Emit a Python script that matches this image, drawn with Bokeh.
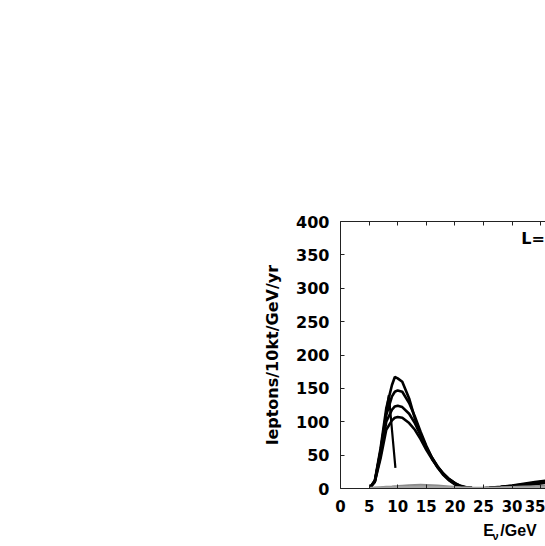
from bokeh.plotting import figure
from bokeh.models import Range1d, LinearAxis, FixedTicker
from bokeh.core.properties import value
from bokeh.embed import file_html
from bokeh.resources import INLINE

# ---- data ----
E_grid = [5.2, 6, 7, 8, 9, 9.5, 10, 10.8, 12, 13, 14, 15, 16, 17, 18, 19, 20, 21, 22,
          23, 24, 25, 26, 28, 30, 32, 34, 36, 38, 40]
black_1 = [2, 12, 60, 120, 155, 167, 165, 160, 135, 105, 82, 62, 45, 31, 20, 12, 6, 2.5, 1,
           0.5, 0.3, 0.4, 1.0, 2.5, 4.5, 7, 9.5, 12, 14, 16]
black_2 = [2, 11, 55, 110, 138, 145, 147, 145, 128, 108, 85, 64, 46, 32, 21, 13, 7, 3, 1,
           0.5, 0.3, 0.4, 0.9, 2.2, 4, 6, 8.5, 11, 13, 15]
black_3 = [2, 10, 50, 100, 118, 123, 124, 122, 112, 98, 80, 62, 46, 33, 22, 14, 8, 3.5, 1.5,
           0.6, 0.3, 0.3, 0.8, 2, 3.5, 5.5, 7.5, 10, 12, 14]
black_4 = [2, 10, 45, 88, 102, 106, 107, 106, 98, 88, 74, 58, 44, 32, 22, 14, 8, 4, 2,
           0.8, 0.4, 0.3, 0.7, 1.7, 3, 4.5, 6.5, 8.5, 10.5, 12]
short_E = [5.2, 6, 7, 8, 8.45, 9.6]
short_v = [2, 12, 58, 115, 140, 31]
gray_1 = [0.5, 1, 1.5, 2, 2.5, 3, 3.3, 3.8, 4.3, 4.7, 5, 4.8, 4.4, 3.9, 3.3, 2.7, 2.1, 1.6, 1.2,
          0.9, 0.7, 0.7, 0.9, 1.3, 1.8, 2.4, 3, 3.6, 4.2, 4.8]
gray_2 = [0.2, 0.4, 0.7, 1, 1.3, 1.5, 1.7, 1.9, 2.1, 2.3, 2.4, 2.3, 2.1, 1.9, 1.6, 1.3, 1, 0.8, 0.6,
          0.4, 0.3, 0.3, 0.4, 0.6, 0.9, 1.2, 1.5, 1.9, 2.2, 2.5]
x_ticks = [0, 5, 10, 15, 20, 25, 30, 35, 40, 45, 50, 55, 60]
y_ticks = [0, 50, 100, 150, 200, 250, 300, 350, 400]
panel_text = "L="
x_title_main = {148: "E", 178: "/GeV"}
x_title_sub = {155: "ν"}

FONT = "DejaVu Sans"
TFONT = "Liberation Sans"
FS = "16px"

p = figure(width=545, height=546, output_backend="svg", toolbar_location=None,
           x_range=Range1d(0, 35.84), y_range=Range1d(0, 400),
           min_border_left=340, min_border_right=0, min_border_top=221, min_border_bottom=58)
p.extra_x_ranges = {"px": Range1d(0, 205)}
p.outline_line_color = None
p.xgrid.visible = False
p.ygrid.visible = False
p.background_fill_color = "white"
p.border_fill_color = "white"

for ax in (p.xaxis[0], p.yaxis[0]):
    ax.major_tick_in = 4
    ax.major_tick_out = 0
    ax.minor_tick_in = 0
    ax.minor_tick_out = 0
    ax.axis_line_color = "#222222"
    ax.major_tick_line_color = "#222222"
    ax.major_label_text_font = FONT
    ax.major_label_text_font_style = "bold"
    ax.major_label_text_font_size = FS
    ax.major_label_text_color = "black"

p.xaxis[0].ticker = FixedTicker(ticks=x_ticks)
p.xaxis[0].major_label_text_font_size = "15px"
p.yaxis[0].ticker = FixedTicker(ticks=y_ticks)
p.xaxis[0].major_label_standoff = 11
p.yaxis[0].major_label_standoff = 11

p.yaxis[0].axis_label = "leptons/10kt/GeV/yr"
p.yaxis[0].axis_label_text_font = FONT
p.yaxis[0].axis_label_text_font_style = "bold"
p.yaxis[0].axis_label_text_font_size = FS
p.yaxis[0].axis_label_text_color = "black"
p.yaxis[0].axis_label_standoff = 11

top = LinearAxis(ticker=FixedTicker(ticks=x_ticks))
top.major_tick_in = 4
top.major_tick_out = 0
top.minor_tick_in = 0
top.minor_tick_out = 0
top.major_label_text_font_size = "0px"
top.major_label_text_alpha = 0
top.axis_line_color = "#222222"
top.major_tick_line_color = "#222222"
p.add_layout(top, "above")


def title_axis(labels, size, standoff):
    ax = LinearAxis(x_range_name="px", ticker=FixedTicker(ticks=list(labels.keys())),
                    major_label_overrides=labels)
    ax.axis_line_color = None
    ax.major_tick_line_color = None
    ax.minor_tick_line_color = None
    ax.major_tick_in = 0
    ax.major_tick_out = 0
    ax.minor_tick_in = 0
    ax.minor_tick_out = 0
    ax.major_label_text_font = TFONT
    ax.major_label_text_font_style = "bold"
    ax.major_label_text_font_size = size
    ax.major_label_text_color = "black"
    ax.major_label_standoff = standoff
    return ax


p.add_layout(title_axis(x_title_main, "16px", 7), "below")
p.add_layout(title_axis(x_title_sub, "11px", -12), "below")

# curves
for ys in (black_1, black_2, black_3, black_4):
    p.line(E_grid, ys, line_color="black", line_width=2.6)
p.line(short_E, short_v, line_color="black", line_width=2.2)
p.line(E_grid, gray_1, line_color="#8a8a8a", line_width=2.6)
p.line(E_grid, gray_2, line_color="#a4a4a4", line_width=2.6)

# panel label at the top right
p.text(x=[31.6], y=[374], text=[panel_text], text_font=value(FONT),
       text_font_style="bold", text_font_size=FS, text_baseline="middle",
       text_align="left", text_color="black")

open("out.html", "w").write(file_html(p, INLINE))
